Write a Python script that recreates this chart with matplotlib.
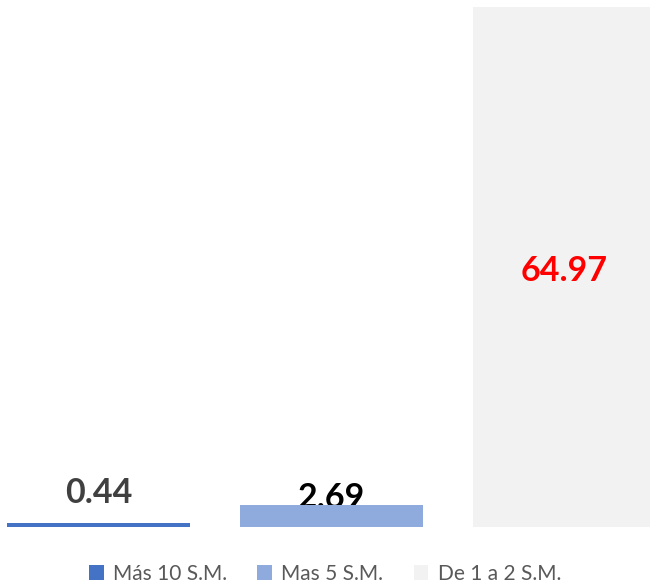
import matplotlib
matplotlib.use("Agg")
import matplotlib.pyplot as plt
from matplotlib.patches import Patch

categories = ["Más 10 S.M.", "Mas 5 S.M.", "De 1 a 2 S.M."]
values = [0.44, 2.69, 64.97]
labels = ["0.44", "2.69", "64.97"]
colors = ["#4472C4", "#8FAADC", "#F2F2F2"]
label_colors = ["#404040", "#000000", "#FF0000"]

W, H = 650, 587
fig = plt.figure(figsize=(W / 100, H / 100), dpi=100)
base = 527
top = 7
ax = fig.add_axes([0, (H - base) / H, 1, base / H])
ppu = (base - top) / values[2]
ax.set_ylim(0, base / ppu)
spacing = 233.0
c0 = 98.5
ax.set_xlim(-c0 / spacing, (W - c0) / spacing)

x = list(range(len(values)))
bars = ax.bar(x, values, width=183 / spacing, color=colors, zorder=3)
for a in ax.spines.values():
    a.set_visible(False)
ax.set_xticks([])
ax.set_yticks([])

label_y = [4.2, 3.6, 32.0]
label_z = [2, 2, 5]
for i, (lab, col) in enumerate(zip(labels, label_colors)):
    ax.text(x[i], label_y[i], lab, ha="center", va="center", fontsize=24.5,
            fontweight="bold", color=col, family="Lato", zorder=label_z[i])

handles = [Patch(facecolor=c, edgecolor="none") for c in colors]
fig.legend(handles, categories, loc="center", bbox_to_anchor=(0.5, 1 - 574 / H),
           ncol=3, frameon=False, handlelength=0.7, handleheight=0.7,
           handletextpad=0.45, columnspacing=1.45,
           prop={"family": "Lato", "size": 15}, labelcolor="#595959")

fig.savefig("out.png", dpi=100)
